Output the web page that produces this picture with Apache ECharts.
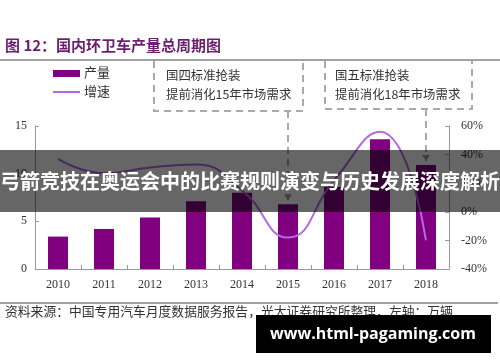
<!DOCTYPE html>
<html><head><meta charset="utf-8">
<script src="https://cdn.jsdelivr.net/npm/echarts@6/dist/echarts.min.js"></script>
<style>html,body{margin:0;padding:0;background:#fff}#c{width:500px;height:362px}</style>
</head><body><div id="c"></div>
<script>
const years = ['2010','2011','2012','2013','2014','2015','2016','2017','2018'];
const output = [3.4, 4.2, 5.4, 7.1, 8.0, 6.8, 8.6, 13.6, 10.9];
const growth = [37, 27, 31, 33, 15, -18, 22, 56, -20];
const leftTicks = [0, 5, 10, 15];
const rightTicks = [-40, -20, 0, 20, 40, 60];
const seriesNames = ['产量', '增速'];
const titleText = '图 12：国内环卫车产量总周期图';
const note1 = ['国四标准抢装', '提前消化15年市场需求'];
const note2 = ['国五标准抢装', '提前消化18年市场需求'];
const sourceText = '资料来源：中国专用汽车月度数据服务报告，光大证券研究所整理，左轴：万辆';
const bannerText = '弓箭竞技在奥运会中的比赛规则演变与历史发展深度解析';
const watermark = 'www.html-pagaming.com';

const chart = echarts.init(document.getElementById('c'), null, {renderer:'canvas'});
const serif = '"Liberation Serif", "Noto Sans CJK SC", serif';
const cjk = '"Noto Sans CJK SC", sans-serif';
const dash = {stroke:'#aaaaaa', lineWidth:2, lineDash:[7,5], fill:null};
const barColor = '#800080', lineColor = '#b36ae2';

chart.setOption({
  animation:false,
  grid:{left:35, right:51, top:126, bottom:93},
  xAxis:{
    type:'category', data:years,
    axisLine:{lineStyle:{color:'#999', width:1}},
    axisTick:{show:true, inside:true, length:4, lineStyle:{color:'#999'}},
    axisLabel:{fontFamily:serif, fontSize:12, color:'#333', margin:10}
  },
  yAxis:[
    {type:'value', min:leftTicks[0], max:leftTicks[leftTicks.length-1], interval:5,
     axisLine:{show:true, lineStyle:{color:'#999'}},
     axisTick:{show:true, inside:true, length:4, lineStyle:{color:'#999'}},
     splitLine:{show:false},
     axisLabel:{fontFamily:serif, fontSize:12, color:'#333', margin:8}},
    {type:'value', min:rightTicks[0], max:rightTicks[rightTicks.length-1], interval:20,
     axisLine:{show:true, lineStyle:{color:'#999'}},
     axisTick:{show:true, inside:true, length:4, lineStyle:{color:'#999'}},
     splitLine:{show:false},
     axisLabel:{fontFamily:serif, fontSize:12, color:'#333', margin:12, formatter:'{value}%'}}
  ],
  series:[
    {name:seriesNames[0], type:'bar', data:output, barWidth:20, itemStyle:{color:barColor}},
    {name:seriesNames[1], type:'line', yAxisIndex:1, data:growth, smooth:true, symbol:'none',
     lineStyle:{color:lineColor, width:2}, itemStyle:{color:lineColor}}
  ]
});

function arrow(x, y1, y2){
  return [
    {type:'line', shape:{x1:x, y1:y1, x2:x, y2:y2}, style:dash, z:5},
    {type:'polygon', shape:{points:[[x-4,y2-6],[x+4,y2-6],[x,y2]]}, style:{fill:'#999'}, z:5}
  ];
}
const p15 = chart.convertToPixel({seriesIndex:0}, ['2015', output[5]]);
const p18 = chart.convertToPixel({seriesIndex:0}, ['2018', output[8]]);

const g = [
  {type:'text', left:5, top:38, style:{text:titleText, font:'bold 15px '+cjk, fill:'#6c1e6e'}},
  {type:'line', shape:{x1:0, y1:60, x2:500, y2:60}, style:{stroke:'#444', lineWidth:1}},
  {type:'rect', shape:{x:53, y:70, width:27, height:7}, style:{fill:barColor}},
  {type:'text', left:84, top:66, style:{text:seriesNames[0], font:'13px '+cjk, fill:'#333'}},
  {type:'line', shape:{x1:53, y1:92, x2:80, y2:92}, style:{stroke:lineColor, lineWidth:2}},
  {type:'text', left:84, top:85, style:{text:seriesNames[1], font:'13px '+cjk, fill:'#333'}},
  {type:'polyline', shape:{points:[[154,61],[154,111],[303,111],[303,61]]}, style:dash},
  {type:'polyline', shape:{points:[[325,61],[325,109],[472,109],[472,61]]}, style:dash},
  {type:'text', left:166, top:69, style:{text:note1[0], font:'12.4px '+cjk, fill:'#333'}},
  {type:'text', left:166, top:88, style:{text:note1[1], font:'12.4px '+cjk, fill:'#333'}},
  {type:'text', left:335, top:69, style:{text:note2[0], font:'12.4px '+cjk, fill:'#333'}},
  {type:'text', left:335, top:88, style:{text:note2[1], font:'12.4px '+cjk, fill:'#333'}},
  ...arrow(p15[0], 111, p15[1]-4),
  ...arrow(p18[0], 109, p18[1]-4),
  {type:'line', shape:{x1:0, y1:303, x2:498, y2:303}, style:{stroke:'#444', lineWidth:1}},
  {type:'text', left:5, top:305, style:{text:sourceText, font:'12.8px '+cjk, fill:'#333'}},
  {type:'rect', shape:{x:0, y:150, width:500, height:62}, style:{fill:'rgba(0,0,0,0.6)'}, z:50},
  {type:'text', x:250, y:181, style:{text:bannerText, font:'bold 20px '+cjk, fill:'#fff', textAlign:'center', textVerticalAlign:'middle'}, z:51},
  {type:'rect', shape:{x:256, y:315, width:235, height:38}, style:{fill:'#000'}, z:50},
  {type:'text', x:373, y:334, style:{text:watermark, font:'bold 16px "Open Sans", sans-serif', fill:'#fff', textAlign:'center', textVerticalAlign:'middle'}, z:51}
];
chart.setOption({graphic:g});
</script></body></html>
